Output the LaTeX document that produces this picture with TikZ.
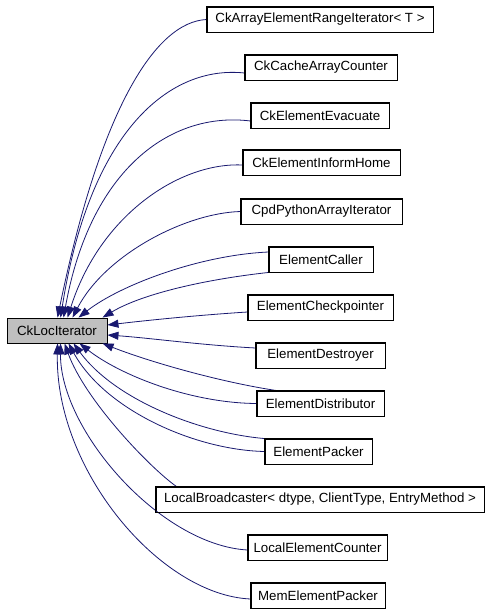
\documentclass[tikz,border=0pt]{standalone}
\usepackage{fontspec}
\newfontfamily\dfont{Liberation Sans}
\usetikzlibrary{arrows.meta}
\definecolor{edgeblue}{HTML}{191970}
\definecolor{basegray}{HTML}{BFBFBF}
\tikzset{
  cls/.style={draw=black, line width=0.9pt, fill=white, minimum height=25pt, inner sep=0pt,
    font=\dfont\fontsize{13.3}{16}\selectfont, anchor=center},
  inh/.style={draw=edgeblue, line width=0.8pt, {Triangle[length=11pt,width=8pt,fill=edgeblue]}-},
}
\begin{document}
\begin{tikzpicture}[x=1pt,y=-1pt]
\useasboundingbox (0,0) rectangle (491,611);
\fill[white] (0,0) rectangle (491,611);
% nodes
\node[cls, fill=basegray, minimum width=100pt] (p) at (57,330.5) {CkLocIterator};
\node[cls, minimum width=226pt] (cA) at (320,19.5) {CkArrayElementRangeIterator< T >};
\node[cls, minimum width=152pt] (cB) at (321,67.5) {CkCacheArrayCounter};
\node[cls, minimum width=138pt] (cC) at (320,115.5) {CkElementEvacuate};
\node[cls, minimum width=157pt] (cD) at (321.5,162.5) {CkElementInformHome};
\node[cls, minimum width=161pt] (cE) at (321.5,211.5) {CpdPythonArrayIterator};
\node[cls, minimum width=104pt] (cF) at (321,259.5) {ElementCaller};
\node[cls, minimum width=145pt] (cG) at (320.5,307.5) {ElementCheckpointer};
\node[cls, minimum width=129pt] (cH) at (320.5,355.5) {ElementDestroyer};
\node[cls, minimum width=127pt] (cI) at (320.5,403.5) {ElementDistributor};
\node[cls, minimum width=107pt] (cJ) at (318.5,451.5) {ElementPacker};
\node[cls, minimum width=328pt] (cK) at (320,499.5) {LocalBroadcaster< dtype, ClientType, EntryMethod >};
\node[cls, minimum width=139pt] (cL) at (317.5,547.5) {LocalElementCounter};
\node[cls, minimum width=134pt] (cM) at (318,595.5) {MemElementPacker};
% edges (arrow at the base class)
\draw[inh] ([xshift=51pt]p.north west) .. controls (100,110) and (155,22) .. (cA.west);
\draw[inh] ([xshift=54pt]p.north west) .. controls (90,130) and (170,65) .. ([yshift=-5.5pt]cB.west);
\draw[inh] ([xshift=57pt]p.north west) .. controls (90,170) and (170,111) .. ([yshift=-5.5pt]cC.west);
\draw[inh] ([xshift=61pt]p.north west) .. controls (100,215) and (180,162) .. ([yshift=-2.5pt]cD.west);
\draw[inh] ([xshift=66pt]p.north west) .. controls (105,255) and (185,213) .. (cE.west);
\draw[inh] ([xshift=72pt]p.north west) .. controls (120,285) and (200,255) .. ([yshift=7.5pt]cF.west);
\draw[inh] ([xshift=96pt]p.north west) .. controls (140,295) and (200,280) .. (cF.south west);
\draw[inh] ([yshift=5.5pt]p.east) .. controls (150,320) and (200,315) .. ([yshift=-4.5pt]cG.west);
\draw[inh] ([yshift=-4.5pt]p.east) .. controls (150,338) and (200,345) .. ([yshift=7.5pt]cH.west);
\draw[inh] ([xshift=96pt]p.south west) .. controls (150,362) and (220,382) .. ([xshift=20pt]cI.north west);
\draw[inh] ([xshift=73pt]p.south west) .. controls (120,375) and (190,403) .. (cI.west);
\draw[inh] ([xshift=67pt]p.south west) .. controls (115,400) and (200,433) .. (cJ.north west);
\draw[inh] ([xshift=62pt]p.south west) .. controls (105,410) and (195,450) .. (cJ.west);
\draw[inh] ([xshift=58pt]p.south west) .. controls (85,400) and (150,468) .. ([xshift=21pt]cK.north west);
\draw[inh] ([xshift=54pt]p.south west) .. controls (60,430) and (160,545) .. ([yshift=-2.5pt]cL.west);
\draw[inh] ([xshift=51pt]p.south west) .. controls (55,470) and (160,595) .. ([yshift=-3.5pt]cM.west);
% redraw boxes on top of edges
\foreach \n in {cA,cB,cC,cD,cE,cF,cG,cH,cI,cJ,cK,cL,cM}{\draw[line width=0.9pt] (\n.north west) rectangle (\n.south east);}
\end{tikzpicture}
\end{document}
